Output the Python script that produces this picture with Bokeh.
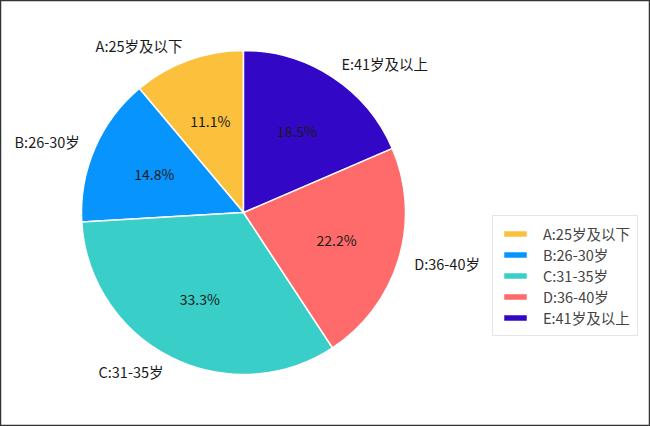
import numpy as np
from bokeh.plotting import figure
from bokeh.models import ColumnDataSource, Range1d, Legend, LegendItem
from bokeh.core.properties import value
from bokeh.embed import file_html
from bokeh.resources import INLINE

categories = ["A:25岁及以下", "B:26-30岁", "C:31-35岁", "D:36-40岁", "E:41岁及以上"]
counts = [3, 4, 9, 6, 5]
colors = ["#FBC03C", "#0894FD", "#39CFC8", "#FF6A6A", "#3208C6"]

W, H = 650, 426
cx, cy, R = 243, 214, 162
FONT = "Noto Sans CJK SC"

vals = np.array(counts, dtype=float)
frac = vals / vals.sum()
ends = np.pi / 2 + 2 * np.pi * np.cumsum(frac)
starts = ends - 2 * np.pi * frac
mids = (starts + ends) / 2

src = ColumnDataSource(dict(
    cat=categories, start=starts, end=ends, color=colors,
    lx=cx + 1.1 * R * np.cos(mids), ly=cy + 1.1 * R * np.sin(mids),
    px=cx + 0.6 * R * np.cos(mids), py=cy + 0.6 * R * np.sin(mids),
    pct=["%.1f%%" % (f * 100) for f in frac],
    align=["left" if np.cos(m) > 0 else "right" for m in mids],
))

p = figure(width=W, height=H, output_backend="svg", toolbar_location=None,
           x_range=Range1d(0, W), y_range=Range1d(0, H), min_border=0)
p.axis.visible = False
p.grid.visible = False
p.outline_line_color = "#333333"
p.outline_line_width = 1.5

renderers = []
for i in range(len(categories)):
    r = p.wedge(x=cx, y=cy, radius=R, start_angle=starts[i], end_angle=ends[i],
                fill_color=colors[i], line_color="white", line_width=1.5)
    renderers.append(r)

p.text(x="lx", y="ly", text="cat", source=src, text_align="align",
       text_baseline="middle", text_font=value(FONT), text_font_size="14.5px",
       text_color="#1a1a1a")
p.text(x="px", y="py", text="pct", source=src, text_align="center",
       text_baseline="middle", text_font=value(FONT), text_font_size="14px",
       text_color="#1a1a1a")

legend = Legend(items=[LegendItem(label=c, renderers=[r]) for c, r in zip(categories, renderers)],
                location=(492, 90), label_text_font=FONT, label_text_font_size="14.5px",
                glyph_width=30, glyph_height=9, label_height=16, spacing=-2,
                padding=7, margin=0, label_standoff=13,
                border_line_color="#cccccc", border_line_width=1,
                background_fill_alpha=1.0)
p.add_layout(legend, "center")

open("out.html", "w").write(file_html(p, INLINE))
